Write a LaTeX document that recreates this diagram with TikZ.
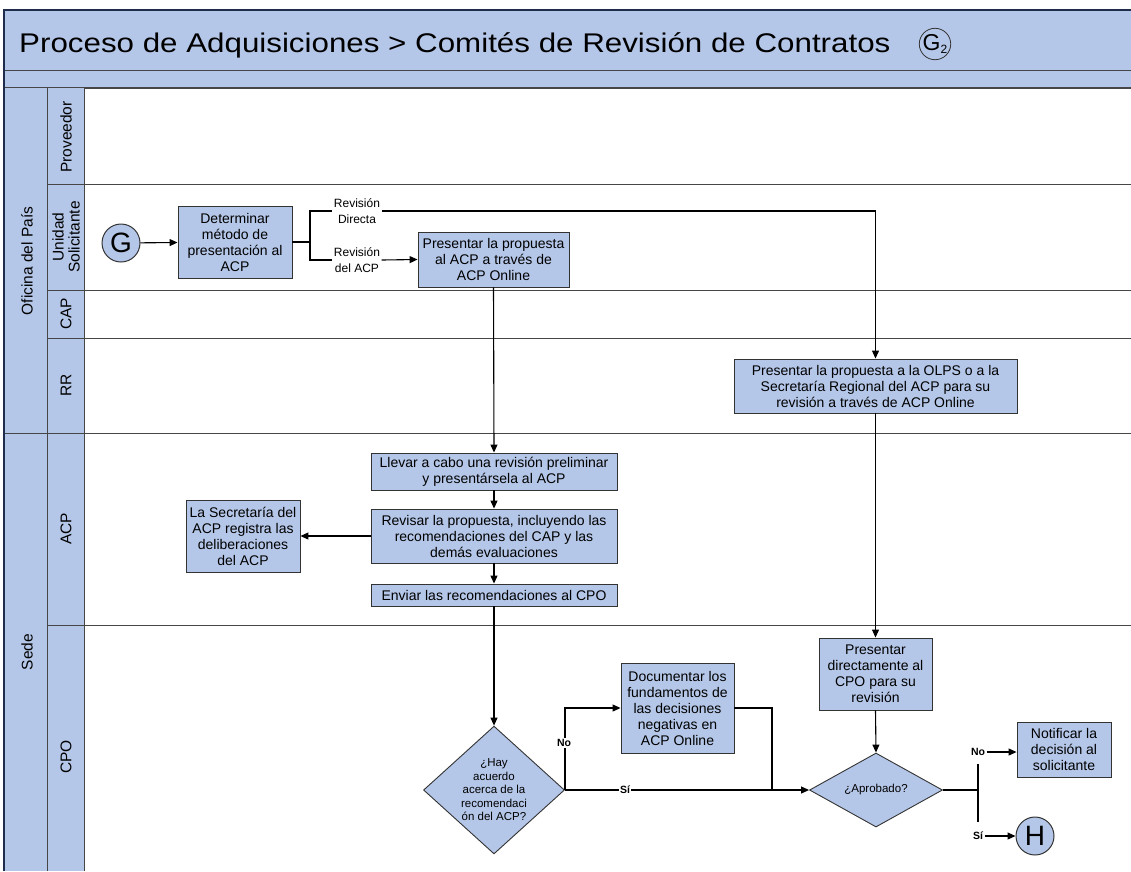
\documentclass[tikz,border=0pt]{standalone}
\usepackage{fontspec}
\setmainfont{Liberation Sans}
\usetikzlibrary{shapes.geometric,arrows.meta}
\definecolor{laneblue}{RGB}{181,199,232}
\definecolor{boxblue}{RGB}{181,199,232}
\definecolor{frame}{RGB}{30,45,75}
\definecolor{lanegray}{RGB}{70,70,70}
\tikzset{
  procbox/.style={draw=black!80, fill=boxblue, line width=0.9pt, align=center, inner sep=1pt,
    font=\fontsize{14}{16}\selectfont},
  decision/.style={draw=black!80, fill=boxblue, line width=0.9pt, diamond, inner sep=0pt, align=center,
    font=\fontsize{11.5}{13.5}\selectfont},
  conn/.style={draw=black, line width=1.1pt},
  arr/.style={conn, -{Triangle[length=8pt,width=7pt]}},
  lbl/.style={fill=white, inner sep=1.5pt, align=center, font=\fontsize{12}{16}\selectfont},
  smlbl/.style={fill=white, inner sep=1.5pt, font=\bfseries\fontsize{10.5}{12}\selectfont},
  lanelbl/.style={rotate=90, align=center, font=\fontsize{15.5}{16}\selectfont},
  term/.style={circle, draw=black!80, fill=boxblue, line width=1pt, minimum size=38pt, inner sep=0pt,
    font=\fontsize{28}{28}\selectfont},
}
\begin{document}
\begin{tikzpicture}[x=1pt,y=-1pt]
\useasboundingbox (0,0) rectangle (1131,871);
% header bands
\fill[laneblue] (5,10) rectangle (1131,88);
\draw[lanegray, line width=1pt] (5,70) -- (1131,70);
\draw[lanegray, line width=1.2pt] (5,88) -- (1131,88);
% lane header columns
\fill[laneblue] (5,88) rectangle (84,871);
\draw[lanegray, line width=1pt] (47,88) -- (47,871);
\draw[lanegray, line width=1pt] (84,88) -- (84,871);
% lane lines
\draw[lanegray, line width=1pt] (47,184) -- (1131,184);
\draw[lanegray, line width=1pt] (47,290) -- (1131,290);
\draw[lanegray, line width=1pt] (47,338) -- (1131,338);
\draw[lanegray, line width=1pt] (5,433) -- (1131,433);
\draw[lanegray, line width=1pt] (47,625) -- (1131,625);
% outer frame
\draw[frame, line width=2.5pt] (4,871) -- (4,10) -- (1131,10);
% title
\node[anchor=west, font=\fontsize{27}{30}\selectfont, inner sep=0pt] (title) at (19,45) {\scalebox{1.16}[1]{Proceso de Adquisiciones > Comités de Revisión de Contratos}};
\node[circle, draw=black!80, line width=0.8pt, minimum size=28pt, inner sep=0pt, font=\fontsize{23}{23}\selectfont] (g2) at (935,44) {G\raisebox{-0.3ex}{\fontsize{12}{12}\selectfont 2}};
% lane labels
\node[lanelbl] (poolA) at (27,261) {Oficina del País};
\node[lanelbl] (poolB) at (27,652) {Sede};
\node[lanelbl] (lProv) at (66,137) {Proveedor};
\node[lanelbl] (lUnid) at (66,237) {Unidad\\Solicitante};
\node[lanelbl] (lCap) at (66,314) {CAP};
\node[lanelbl] (lRR) at (66,385) {RR};
\node[lanelbl] (lAcp) at (66,529) {ACP};
\node[lanelbl] (lCpo) at (66,757) {CPO};
% nodes
\node[term] (g) at (121,243) {G};
\node[procbox, minimum width=114pt, minimum height=72pt] (det) at (235,242) {Determinar\\método de\\presentación al\\ACP};
\node[procbox, minimum width=151pt, minimum height=55pt] (prop) at (493.5,259.5) {Presentar la propuesta\\al ACP a través de\\ACP Online};
\node[procbox, minimum width=283pt, minimum height=54pt] (rr) at (875.5,386) {Presentar la propuesta a la OLPS o a la\\Secretaría Regional del ACP para su\\revisión a través de ACP Online};
\node[procbox, minimum width=246pt, minimum height=37pt] (llevar) at (494,471.5) {Llevar a cabo una revisión preliminar\\y presentársela al ACP};
\node[procbox, minimum width=246pt, minimum height=54pt] (revisar) at (494,536) {Revisar la propuesta, incluyendo las\\recomendaciones del CAP y las\\demás evaluaciones};
\node[procbox, minimum width=246pt, minimum height=22pt] (enviar) at (494,595) {Enviar las recomendaciones al CPO};
\node[procbox, minimum width=114pt, minimum height=72pt] (secr) at (243,536) {La Secretaría del\\ACP registra las\\deliberaciones\\del ACP};
\node[decision, minimum width=141pt, minimum height=120pt] (d1) at (494,790) {¿Hay\\acuerdo\\acerca de la\\recomendaci\\ón del ACP?};
\node[procbox, minimum width=113pt, minimum height=90pt] (doc) at (677.5,708) {Documentar los\\fundamentos de\\las decisiones\\negativas en\\ACP Online};
\node[procbox, minimum width=113pt, minimum height=72pt] (pdir) at (875.5,674) {Presentar\\directamente al\\CPO para su\\revisión};
\node[decision, minimum width=133pt, minimum height=73pt] (d2) at (876,790) {¿Aprobado?};
\node[procbox, minimum width=94pt, minimum height=55pt] (notif) at (1064,749.5) {Notificar la\\decisión al\\solicitante};
\node[term] (h) at (1035,836) {H};
% labels
\node[lbl] (lDir) at (357,211) {Revisión\\Directa};
\node[lbl] (lAcpr) at (357,260) {Revisión\\del ACP};
\coordinate (jx) at (310,242);
\coordinate (j2) at (772,790);
\coordinate (v1) at (978,764);
\coordinate (v2) at (978,822);
% connectors
\draw[arr] (g) -- (det);
\draw[conn] (det.east) -- (jx);
\draw[conn] (jx) |- (lDir.west);
\draw[conn] (jx) |- (lAcpr.west);
\draw[arr] (lDir.east) -| (rr.north);
\draw[arr] (lAcpr.east) -- (prop.west);
\draw[arr] (prop.south) -- (llevar.north);
\draw[arr] (llevar) -- (revisar);
\draw[arr] (revisar) -- (enviar);
\draw[arr] (revisar.west) -- (secr.east);
\draw[arr] (enviar.south) -- (d1.north);
\draw[arr] (rr.south) -- (pdir.north);
\draw[arr] (pdir.south) -- (d2.north);
\draw[arr] (d1.east) |- (doc.west);
\draw[conn] (doc.east) -| (j2);
\draw[arr] (d1.east) -- (d2.west);
\draw[conn] (d2.east) -- (d2.east -| v1);
\draw[conn] (v1) -- (v2);
\node[smlbl] (no1) at (564,743) {No};
\node[smlbl] (si1) at (625,790) {Sí};
\node[smlbl] (no2) at (978,752) {No};
\node[smlbl] (si2) at (978,836) {Sí};
\draw[arr] (no2.east) -- (no2.east -| notif.west);
\draw[arr] (si2.east) -- (h.west);
\end{tikzpicture}
\end{document}
